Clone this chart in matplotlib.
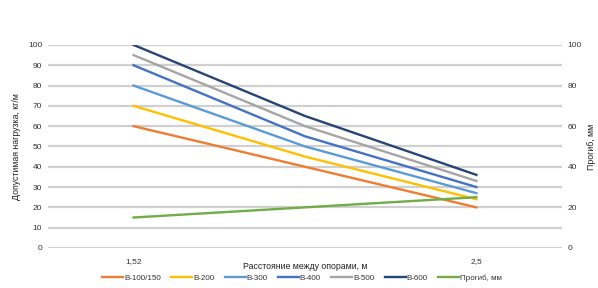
import matplotlib.pyplot as plt

plt.rcParams['font.family'] = ['Liberation Sans', 'DejaVu Sans']

# ====== ДАННЫЕ ======
spans = ["1,52", "2", "2,5"]
shown_labels = ["1,52", "", "2,5"]

b100 = [60, 40, 20]
b200 = [70, 45, 24]
b300 = [80, 50, 27]
b400 = [90, 55, 30]
b500 = [95, 60, 33]
b600 = [100, 65, 36]
progib = [15, 20, 25]

series = [
    ("В-100/150", b100, "#ED7D31"),
    ("В-200", b200, "#FFC000"),
    ("В-300", b300, "#5B9BD5"),
    ("В-400", b400, "#4472C4"),
    ("В-500", b500, "#A5A5A5"),
    ("В-600", b600, "#264478"),
]

fig = plt.figure(figsize=(5.98, 2.88), dpi=100)
ax = fig.add_axes([0.08, 0.139, 0.86, 0.705])
ax2 = ax.twinx()

x = list(range(len(spans)))
handles = []
for name, vals, col in series:
    h, = ax.plot(x, vals, color=col, lw=1.7, label=name)
    handles.append(h)
h, = ax2.plot(x, progib, color="#70AD47", lw=1.7, label="Прогиб, мм")
handles.append(h)

ax.set_xlim(-0.5, len(spans) - 0.5)
ax.set_ylim(0, 100)
ax2.set_ylim(0, 100)
ax.set_yticks(range(0, 101, 10))
ax2.set_yticks(range(0, 101, 20))
ax.set_xticks(x)
ax.set_xticklabels(shown_labels)

ax.grid(axis="y", color="#D0D0D0", lw=1.6)
ax.set_axisbelow(True)
for a in (ax, ax2):
    for s in a.spines.values():
        s.set_visible(False)
    a.tick_params(length=0, labelsize=6, colors="#333333", pad=4)
ax.tick_params(axis="x", pad=7)

ax.set_ylabel("Допустимая нагрузка, кг/м", fontsize=6.3, color="#222222", labelpad=5)
ax2.set_ylabel("Прогиб, мм", fontsize=6.3, color="#222222", rotation=90, labelpad=4)
ax.set_xlabel("Расстояние между опорами, м", fontsize=6.3, color="#222222", labelpad=-2)

fig.legend(handles=handles, loc="center", bbox_to_anchor=(0.505, 0.035), ncol=7,
           frameon=False, fontsize=5.8, handlelength=2.6, columnspacing=1.3,
           handletextpad=0.1, labelcolor="#333333")

fig.savefig("out.png", dpi=100)
